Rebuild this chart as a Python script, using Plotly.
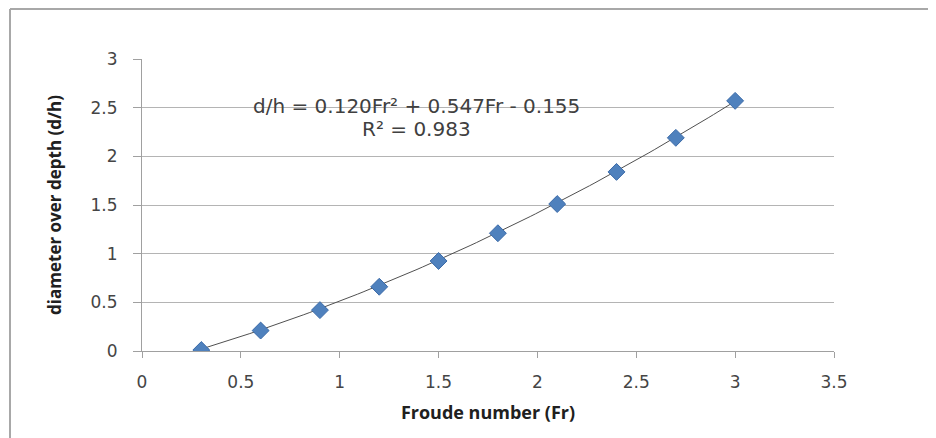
import plotly.graph_objects as go
import numpy as np

froude = [0.3, 0.6, 0.9, 1.2, 1.5, 1.8, 2.1, 2.4, 2.7, 3.0]
d_over_h = [0.01, 0.21, 0.42, 0.66, 0.925, 1.21, 1.51, 1.84, 2.19, 2.57]
fit_coeffs = [0.120, 0.547, -0.155]
x_ticks = [0, 0.5, 1, 1.5, 2, 2.5, 3, 3.5]
y_ticks = [0, 0.5, 1, 1.5, 2, 2.5, 3]

xf = np.linspace(min(froude), max(froude), 100)
yf = np.polyval(fit_coeffs, xf)

W, H = 936, 438
OFF = 7  # page offset of the figure in the screenshot
# target plot area in screen pixels
PL, PR, PT, PB = 141, 833, 58, 350
l, t = PL - OFF, PT - OFF
pw, ph = PR - PL, PB - PT
r, b = W - l - pw, H - t - ph


def px(xs):
    return (xs - OFF - l) / pw


def py(ys):
    return (H - b - (ys - OFF)) / ph


fig = go.Figure()
fig.add_trace(go.Scatter(x=xf, y=yf, mode="lines",
                         line=dict(color="#505050", width=1), hoverinfo="skip", showlegend=False))
fig.add_trace(go.Scatter(x=froude, y=d_over_h, mode="markers",
                         marker=dict(symbol="diamond", size=13, color="#4F81BD",
                                     line=dict(color="#3A6AA8", width=1)),
                         showlegend=False))

tick_font = dict(family="DejaVu Sans, sans-serif", size=17, color="#454545")
title_font = "Open Sans, DejaVu Sans, sans-serif"
fig.update_layout(
    width=W, height=H,
    margin=dict(l=l, r=r, t=t, b=b),
    paper_bgcolor="white", plot_bgcolor="white",
    xaxis=dict(range=[0, 3.5], tickvals=x_ticks, ticktext=[f"{v:g}" for v in x_ticks],
               showgrid=False, zeroline=False, showline=True, linecolor="#A0A0A0", linewidth=1,
               ticks="outside", ticklen=6, tickcolor="#A0A0A0", tickfont=tick_font,
               ticklabelstandoff=10,
               title=dict(text="<b>Froude number (Fr)</b>", standoff=14,
                          font=dict(family=title_font, size=18, color="#202020"))),
    yaxis=dict(range=[0, 3], tickvals=y_ticks, ticktext=[f"{v:g}" for v in y_ticks],
               showgrid=True, gridcolor="#B4B4B4", gridwidth=1, zeroline=False,
               showline=True, linecolor="#A0A0A0", linewidth=1,
               ticks="outside", ticklen=8, tickcolor="#A0A0A0", tickfont=tick_font,
               ticklabelstandoff=12,
               title=dict(text="<b>diameter over depth (d/h)</b>", standoff=24,
                          font=dict(family=title_font, size=17, color="#202020"))),
)

ann_font = dict(family="DejaVu Sans, sans-serif", size=20, color="#404040")
fig.add_annotation(x=px(415), y=py(91), xref="paper", yref="paper",
                   text="d/h = 0.120Fr² + 0.547Fr - 0.155", showarrow=False, font=ann_font)
fig.add_annotation(x=px(415), y=py(114), xref="paper", yref="paper",
                   text="R² = 0.983", showarrow=False, font=ann_font)

fig.add_shape(type="line", xref="paper", yref="paper", x0=px(9), x1=px(940), y0=py(OFF + 1), y1=py(OFF + 1),
              line=dict(color="#A8A8A8", width=2))
fig.add_shape(type="line", xref="paper", yref="paper", x0=px(OFF + 2), x1=px(OFF + 2), y0=py(OFF + 1), y1=py(450),
              line=dict(color="#A8A8A8", width=2))

fig.write_html("out.html")
